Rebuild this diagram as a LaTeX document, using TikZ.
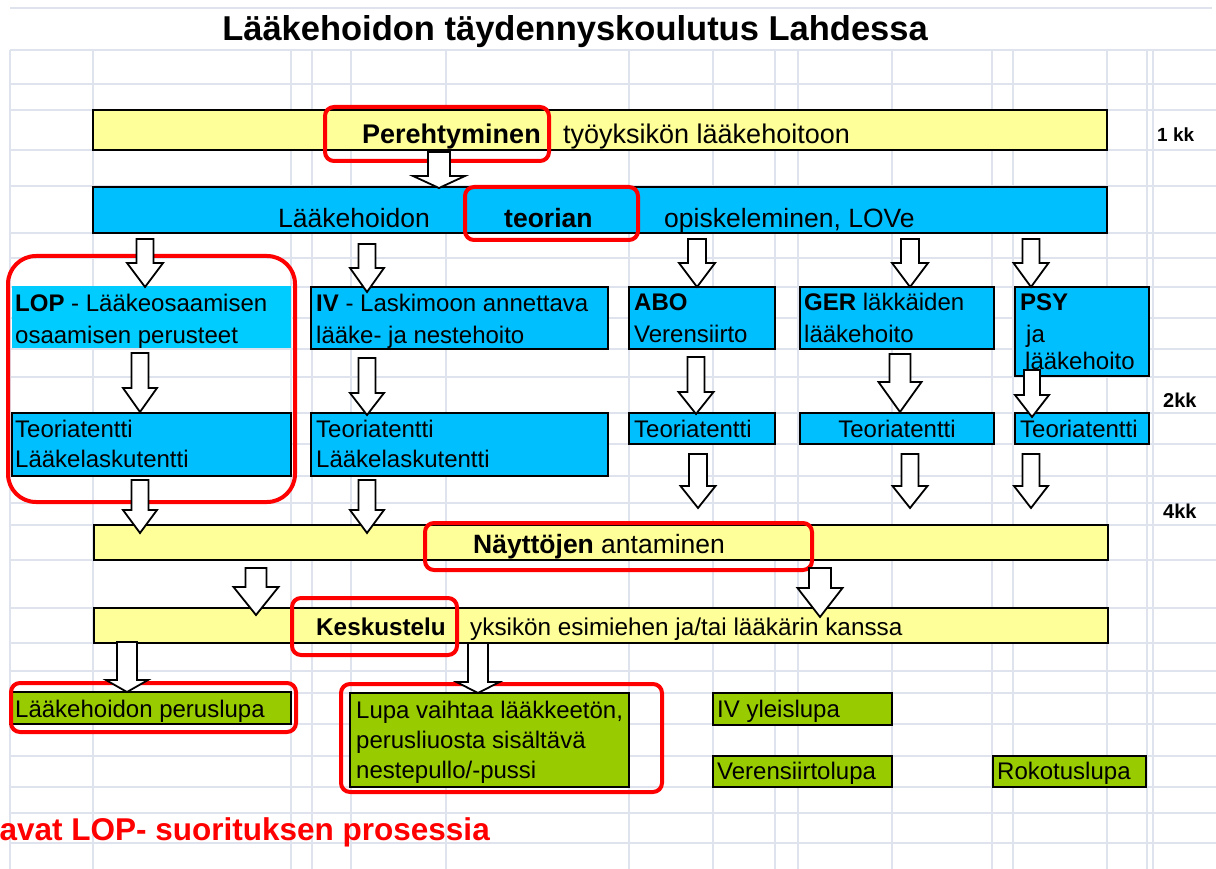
\documentclass[tikz,border=0pt]{standalone}
\usepackage{fontspec}
\setmainfont{Liberation Sans}
\definecolor{ylw}{HTML}{FFFF99}
\definecolor{cyn}{HTML}{00BFFF}
\definecolor{cynl}{HTML}{00CCFF}
\definecolor{grn}{HTML}{99CC00}
\definecolor{gridc}{HTML}{DFE3EE}
\definecolor{redc}{HTML}{FF0000}
\newcommand\fsz[1]{\fontsize{#1}{#1}\selectfont}
\newcommand\boxnode[6]{\node[#1, anchor=north west, inner sep=0pt, outer sep=0pt, minimum width={(#5-#3)*1pt}, minimum height={(#6-#4)*1pt}] (#2) at (#3,#4) {};}
\newcommand\barrow[7]{\draw[barr] ({#2-#6},#3) -- ({#2+#6},#3) -- ({#2+#6},#4) -- ({#2+#7},#4) -- (#2,#5) coordinate (#1) -- ({#2-#7},#4) -- ({#2-#6},#4) -- cycle;}
\begin{document}
\begin{tikzpicture}[x=1pt,y=-1pt,
  yb/.style={fill=ylw, draw=black, line width=1.3pt},
  cb/.style={fill=cyn, draw=black, line width=1.3pt},
  cbl/.style={fill=cynl, draw=none},
  gb/.style={fill=grn, draw=black, line width=1.3pt},
  redbox/.style={draw=redc, line width=4pt, rounded corners=9pt},
  barr/.style={fill=white, draw=black, line width=1.8pt, line join=miter},
  txt/.style={inner sep=0pt, anchor=base west},
  gridline/.style={draw=gridc, line width=1.1pt}]
\useasboundingbox (0,0) rectangle (1216,869);
\fill[white] (0,0) rectangle (1216,869);
% spreadsheet grid
\foreach \gx in {10,93,291,312,351,446,629,713,775,798,892,992,1013,1107,1147,1153}
  \draw[gridline] (\gx,50) -- (\gx,869);
\foreach \gy in {50,84,110,150,186,233,258,287,318,349,377,413,444,476,503,525,560,608,643,671,693,724,756,787,813,843}
  \draw[gridline] (10,\gy) -- (1216,\gy);
\draw[gridline] (10,8) -- (1212,8);
% title
\node[inner sep=0pt, anchor=base] (title) at (575,41) {\fsz{34.5}\bfseries Lääkehoidon täydennyskoulutus Lahdessa};
% bars
\boxnode{yb}{bar1}{93}{110}{1107}{150}
\boxnode{cb}{bar2}{93}{187}{1107}{233}
\boxnode{yb}{bar3}{94}{525}{1108}{560}
\boxnode{yb}{bar4}{94}{608}{1108}{643}
% study boxes
\boxnode{cbl}{lop}{12}{286}{291}{348}
\boxnode{cb}{iv}{311}{287}{608}{349}
\boxnode{cb}{abo}{629}{287}{775}{349}
\boxnode{cb}{ger}{800}{287}{994}{349}
\boxnode{cb}{psy}{1015}{287}{1149}{376}
% exams
\boxnode{cb}{lopt}{12}{413}{291}{476}
\boxnode{cb}{ivt}{311}{413}{608}{476}
\boxnode{cb}{abot}{629}{413}{775}{444}
\boxnode{cb}{gert}{800}{413}{994}{444}
\boxnode{cb}{psyt}{1015}{413}{1149}{444}
% permits
\boxnode{gb}{perus}{10}{692}{291}{724}
\boxnode{gb}{lupa}{350}{693}{629}{787}
\boxnode{gb}{ivy}{713}{693}{892}{725}
\boxnode{gb}{veri}{713}{756}{892}{787}
\boxnode{gb}{roko}{993}{756}{1146}{787}
% texts
\node[txt] (t1a) at (362,144) {\fsz{27}\bfseries Perehtyminen};
\node[txt] (t1b) at (563,144) {\fsz{27}työyksikön lääkehoitoon};
\node[txt] (kk1) at (1157,142) {\fsz{19}\bfseries 1 kk};
\node[txt] (t2a) at (278,228) {\fsz{26.5}Lääkehoidon};
\node[txt] (t2b) at (504,228) {\fsz{26.5}\bfseries teorian};
\node[txt] (t2c) at (664,228) {\fsz{26.5}opiskeleminen, LOVe};
\node[txt] (lop1) at (15,311) {\fsz{24}\textbf{LOP} - Lääkeosaamisen};
\node[txt] (lop2) at (15,343) {\fsz{24}osaamisen perusteet};
\node[txt] (iv1) at (316,311) {\fsz{24}\textbf{IV} - Laskimoon annettava};
\node[txt] (iv2) at (316,343) {\fsz{24}lääke- ja nestehoito};
\node[txt] (abo1) at (634,310) {\fsz{24}\bfseries ABO};
\node[txt] (abo2) at (634,342) {\fsz{24}Verensiirto};
\node[txt] (ger1) at (804,310) {\fsz{24}\textbf{GER} läkkäiden};
\node[txt] (ger2) at (804,342) {\fsz{24}lääkehoito};
\node[txt] (psy1) at (1020,310) {\fsz{24}\bfseries PSY};
\node[txt] (psy2) at (1026,342) {\fsz{24}ja};
\node[txt] (psy3) at (1025,369) {\fsz{24}lääkehoito};
\node[txt] (lopt1) at (15,437) {\fsz{24}Teoriatentti};
\node[txt] (lopt2) at (15,467) {\fsz{24}Lääkelaskutentti};
\node[txt] (ivt1) at (316,437) {\fsz{24}Teoriatentti};
\node[txt] (ivt2) at (316,467) {\fsz{24}Lääkelaskutentti};
\node[txt] (abot1) at (634,437) {\fsz{24}Teoriatentti};
\node[inner sep=0pt, anchor=base] (gert1) at (897,437) {\fsz{24}Teoriatentti};
\node[txt] (psyt1) at (1020,437) {\fsz{24}Teoriatentti};
\node[txt] (kk2) at (1163,407) {\fsz{20}\bfseries 2kk};
\node[txt] (kk4) at (1163,518) {\fsz{20}\bfseries 4kk};
\node[txt] (t3a) at (473,553) {\fsz{26.5}\bfseries Näyttöjen};
\node[txt] (t3b) at (601,553) {\fsz{26.5}antaminen};
\node[txt] (t4a) at (316,635) {\fsz{24.3}\bfseries Keskustelu};
\node[txt] (t4b) at (470,635) {\fsz{24.3}yksikön esimiehen ja/tai lääkärin kanssa};
\node[txt] (g1) at (15,717) {\fsz{24}Lääkehoidon peruslupa};
\node[txt] (g2a) at (356,718) {\fsz{24}Lupa vaihtaa lääkkeetön,};
\node[txt] (g2b) at (356,748) {\fsz{24}perusliuosta sisältävä};
\node[txt] (g2c) at (356,778) {\fsz{24}nestepullo/-pussi};
\node[txt] (g3) at (717,717) {\fsz{24}IV yleislupa};
\node[txt] (g4) at (717,779) {\fsz{24}Verensiirtolupa};
\node[txt] (g5) at (997,779) {\fsz{24}Rokotuslupa};
\node[inner sep=0pt, anchor=base east, text=redc] (foot) at (490,840) {\fsz{31.5}\bfseries avat LOP- suorituksen prosessia};
% red highlight frames
\draw[redbox] (325,107) rectangle (549,161);
\draw[redbox] (465,187) rectangle (638,240);
\draw[redbox, rounded corners=28pt] (8,256) rectangle (295,502);
\draw[redbox] (425,523) rectangle (812,570);
\draw[redbox] (292,598) rectangle (457,655);
\draw[redbox] (11,683) rectangle (296,732);
\draw[redbox] (341,684) rectangle (662,792);
% block arrows
\barrow{a1}{439}{152}{176}{188}{11}{26}
\barrow{a2}{145}{239}{263}{287}{8.5}{18}
\barrow{a3}{367}{244}{268}{292}{8.5}{17}
\barrow{a4}{697}{239}{263}{287}{9}{18}
\barrow{a5}{910}{239}{263}{287}{9}{18}
\barrow{a6}{1031}{239}{263}{287}{8.5}{17.5}
\barrow{b2}{140}{353}{388}{412}{8.5}{17}
\barrow{b3}{367}{358}{393}{415}{8.5}{17}
\barrow{b4}{696}{357}{392}{414}{8.5}{17.5}
\barrow{b5}{900}{354}{382}{412}{10.5}{21.5}
\barrow{b6}{1032}{370}{395}{417}{8}{17}
\barrow{c2}{140}{480}{510}{533}{8.5}{17}
\barrow{c3}{367}{480}{510}{533}{8.5}{17}
\barrow{c4}{698}{454}{486}{508}{9}{17.5}
\barrow{c5}{910}{454}{486}{508}{8.5}{17.5}
\barrow{c6}{1031}{454}{486}{508}{8.5}{17}
\barrow{d1}{256}{568}{587}{615}{10.5}{22.5}
\barrow{d2}{820}{568}{588}{617}{11}{22.5}
\barrow{e1}{127}{642}{680}{692}{10}{21}
\barrow{e2}{478}{643}{682}{693}{10}{21.5}
\end{tikzpicture}
\end{document}
